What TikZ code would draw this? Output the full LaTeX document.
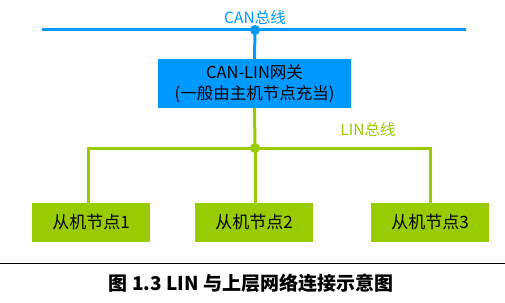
\documentclass[tikz,border=0pt]{standalone}
\usepackage{fontspec}
\setmainfont{Noto Sans CJK SC}
\usetikzlibrary{positioning}
\definecolor{canblue}{HTML}{0099FF}
\definecolor{lingreen}{HTML}{99CC00}

\begin{document}
\begin{tikzpicture}[x=1pt,y=-1pt,
  gw/.style={fill=canblue,minimum width=193pt,minimum height=49pt,align=center,inner sep=0pt,font=\fontsize{16.5}{21}\selectfont},
  slave/.style={fill=lingreen,minimum width=118pt,minimum height=39pt,inner sep=0pt,font=\fontsize{17}{19}\selectfont},
  canbus/.style={canblue,line width=3pt},
  linbus/.style={lingreen,line width=3pt}]
\useasboundingbox (0,0) rectangle (505,302);
% CAN bus
\coordinate (canl) at (42,30);
\coordinate (canr) at (466,30);
\coordinate (canj) at (255,30);
\draw[canbus] (canl) -- (canr);
\node[text=canblue,font=\fontsize{15.5}{17}\selectfont] (canlbl) at (255,18) {CAN总线};
% gateway
\node[gw] (gw) at (254.5,83.5) {CAN-LIN网关\\(一般由主机节点充当)};
\draw[canbus] (canj) -- (gw.north);
\fill[canblue] (canj) circle (5);
% LIN bus
\coordinate (linj) at (255,148);
\node[slave] (s1) at (91,222.5) {从机节点1};
\node[slave] (s2) at (254,222.5) {从机节点2};
\node[slave] (s3) at (430,222.5) {从机节点3};
\draw[linbus] (gw.south) -- (linj);
\draw[linbus] (s1.north-|88,0) |- (linj) -| (s3.north-|430,0);
\draw[linbus] (linj) -- (s2.north-|linj);
\fill[lingreen] (linj) circle (5);
\node[text=lingreen,font=\fontsize{15.5}{17}\selectfont] (linlbl) at (368,130) {LIN总线};
% caption
\coordinate (rulel) at (0,263);
\coordinate (ruler) at (505,263);
\draw[line width=0.8pt] (rulel) -- (ruler);
\node[font=\fontsize{19}{21}\selectfont\bfseries] (cap) at (251,283) {图 1.3 LIN 与上层网络连接示意图};
\end{tikzpicture}
\end{document}
